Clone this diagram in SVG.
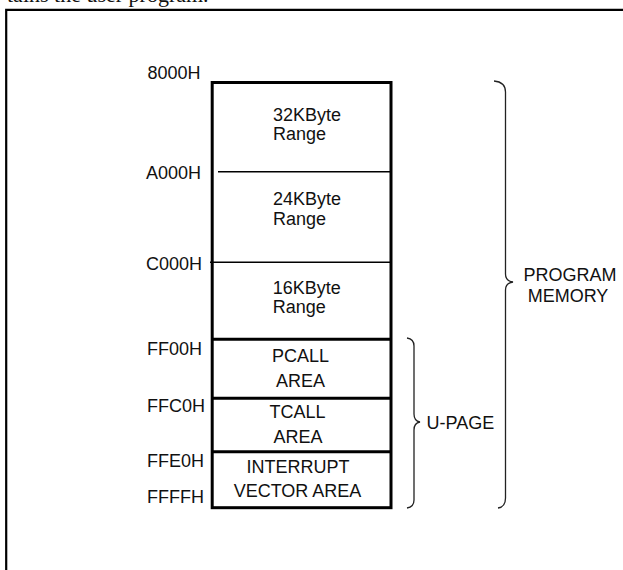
<svg xmlns="http://www.w3.org/2000/svg" width="623" height="570" viewBox="0 0 623 570">
<style>
.t{font-family:"Liberation Sans",Arial,sans-serif;font-size:18px;fill:#111}
.c{text-anchor:middle}
.thin{stroke:#000;stroke-width:1.6;fill:none}
.thick{stroke:#000;stroke-width:3;fill:none}
.brace{stroke:#222;stroke-width:1.3;fill:none}
</style>
<rect width="623" height="570" fill="#fff"/>
<text x="7" y="1.5" style="font-family:'Liberation Serif','Times New Roman',serif;font-size:22px;fill:#111">tains the user program.</text>
<path d="M6.2,572 L6.2,9.8 L625,9.8" stroke="#000" stroke-width="2.2" fill="none"/>
<g id="memory-map">
<rect x="212.2" y="82.5" width="178.8" height="425.2" class="thick"/>
</g>
<g id="connectors">
<line x1="218" y1="171.7" x2="391" y2="171.7" class="thin"/>
<line x1="210" y1="262.3" x2="391" y2="262.3" class="thin"/>
<line x1="212.2" y1="339.3" x2="391" y2="339.3" class="thick"/>
<line x1="212.2" y1="398.3" x2="391" y2="398.3" class="thick"/>
<line x1="212.2" y1="451.7" x2="391" y2="451.7" class="thick"/>
<path class="brace" d="M407,338 Q414,339 414,346 L414,414 Q414,421 420,422 Q414,423 414,430 L414,500 Q414,507 407,508"/>
<path class="brace" d="M494,81 Q505.5,82 505.5,92 L505.5,274 Q505.5,281 513,282 Q505.5,283 505.5,290 L505.5,498 Q505.5,507 498,508"/>
</g>
<g id="addr-labels">
<text class="t" x="147.5" y="79">8000H</text>
<text class="t" x="146" y="179.3">A000H</text>
<text class="t" x="146" y="270">C000H</text>
<text class="t" x="147" y="355">FF00H</text>
<text class="t" x="147" y="411.7">FFC0H</text>
<text class="t" x="147" y="466.7">FFE0H</text>
<text class="t" x="147" y="503.3">FFFFH</text>
</g>
<g id="node-32k">
<text class="t" x="273" y="120.5">32KByte</text>
<text class="t" x="273" y="140">Range</text>
</g>
<g id="node-24k">
<text class="t" x="273" y="205">24KByte</text>
<text class="t" x="273" y="224.5">Range</text>
</g>
<g id="node-16k">
<text class="t" x="272.7" y="293.5">16KByte</text>
<text class="t" x="272.7" y="313">Range</text>
</g>
<g id="node-pcall">
<text class="t c" x="300.5" y="361.7">PCALL</text>
<text class="t c" x="300.5" y="386.7">AREA</text>
</g>
<g id="node-tcall">
<text class="t c" x="297.5" y="418.3">TCALL</text>
<text class="t c" x="298" y="442.7">AREA</text>
</g>
<g id="node-vector">
<text class="t c" x="298" y="473.3">INTERRUPT</text>
<text class="t c" x="297.5" y="496.7">VECTOR AREA</text>
</g>
<g id="upage">
<text class="t" x="426.5" y="429.3">U-PAGE</text>
</g>
<g id="program-memory">
<text class="t c" x="570" y="281">PROGRAM</text>
<text class="t c" x="568" y="302">MEMORY</text>
</g>
</svg>
